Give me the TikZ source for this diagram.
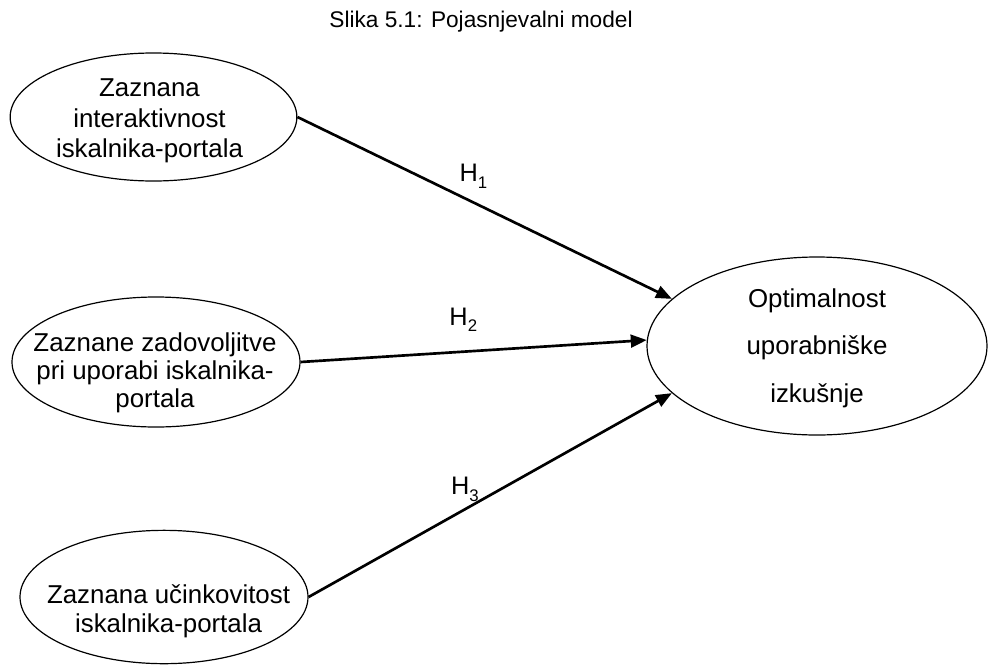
\documentclass[tikz,border=0pt]{standalone}
\usepackage{fontspec}
\setmainfont{Liberation Sans}
\usetikzlibrary{shapes.geometric,arrows.meta,positioning}

\newcommand{\hyp}[1]{H\raisebox{-5pt}{\fontsize{12.6}{13}\selectfont #1}}

\tikzset{
  oval/.style={draw, ellipse, line width=0.9pt, inner sep=0pt,
    minimum width=215pt, minimum height=96pt},
  ovaltext/.style={align=center, inner sep=0pt},
  link/.style={line width=2pt, -{Triangle[length=12pt,width=9.5pt]}},
  hlabel/.style={font=\fontsize{19}{22}\selectfont, inner sep=0pt}
}

\begin{document}
\begin{tikzpicture}[x=0.75pt, y=-0.75pt]
    \useasboundingbox (0,0) rectangle (988,664);

    % Title
    \node[font=\fontsize{17}{20}\selectfont] (title) at (481,22) {Slika 5.1: Pojasnjevalni model};

    % Constructs
    \node[oval] (z1) at (153.5,117) {};
    \node[oval, minimum width=216pt, minimum height=97.5pt] (z2) at (156,362) {};
    \node[oval, minimum width=216pt, minimum height=100pt] (z3) at (164,597) {};
    \node[oval, minimum width=255pt, minimum height=133.5pt] (opt) at (817,346) {};

    \node[ovaltext, font=\fontsize{19.4}{22.9}\selectfont] (t1) at ([xshift=-3pt, yshift=-3pt]z1)
        {Zaznana\\interaktivnost\\iskalnika-portala};
    \node[ovaltext, font=\fontsize{19.4}{21}\selectfont] (t2) at ([xshift=-0.75pt, yshift=-8.25pt]z2)
        {Zaznane zadovoljitve\\pri uporabi iskalnika-\\portala};
    \node[ovaltext, font=\fontsize{19.4}{21.75}\selectfont] (t3) at ([xshift=3.4pt, yshift=-10.5pt]z3)
        {Zaznana učinkovitost\\iskalnika-portala};
    \node[ovaltext, font=\fontsize{19.4}{35.6}\selectfont] (t4) at ([yshift=-1.5pt]opt)
        {Optimalnost\\uporabniške\\izkušnje};

    % Hypotheses
    \draw[link] (z1.east) -- node[hlabel, pos=0.47, yshift=19.5pt] (h1) {\hyp{1}} (opt.162);
    \draw[link] (z2.east) -- node[hlabel, pos=0.47, yshift=24pt] (h2) {\hyp{2}} (opt.178);
    \draw[link] (z3.east) -- node[hlabel, pos=0.43, yshift=15pt] (h3) {\hyp{3}} (opt.198);
\end{tikzpicture}
\end{document}
